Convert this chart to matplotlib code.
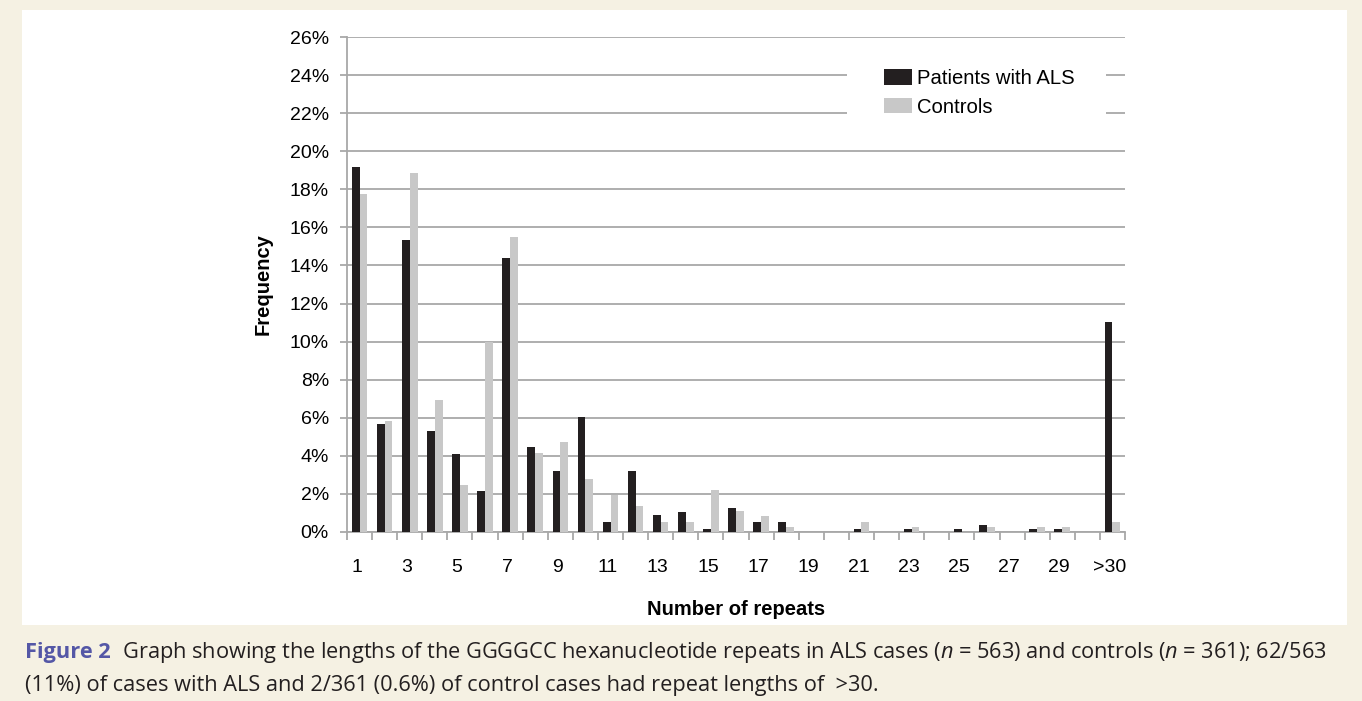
import numpy as np
import matplotlib.pyplot as plt
from matplotlib.patches import Rectangle
from matplotlib.transforms import ScaledTranslation

plt.rcParams['font.family'] = ['Liberation Sans', 'DejaVu Sans']
plt.rcParams['mathtext.fontset'] = 'custom'
plt.rcParams['mathtext.it'] = 'Open Sans:italic'
plt.rcParams['mathtext.rm'] = 'Open Sans'

# categories: 1..30 repeats plus >30
categories = [str(i) for i in range(1, 31)] + ['>30']
# frequency in %
als = [19.18, 5.68, 15.32, 5.33, 4.09, 2.13, 14.39, 4.44, 3.2, 6.04,
       0.53, 3.2, 0.89, 1.07, 0.18, 1.24, 0.53, 0.53, 0, 0,
       0.18, 0, 0.18, 0, 0.18, 0.36, 0, 0.18, 0.18, 0, 11.01]
controls = [17.73, 5.82, 18.84, 6.93, 2.49, 9.97, 15.51, 4.16, 4.71, 2.77,
            1.94, 1.39, 0.55, 0.55, 2.22, 1.11, 0.83, 0.28, 0, 0,
            0.55, 0, 0.28, 0, 0, 0.28, 0, 0.28, 0.28, 0, 0.55]
ytick_vals = list(range(0, 27, 2))

bg = '#f5f1e3'
als_color = '#231f20'
ctrl_color = '#c8c8c8'
grid_color = '#a8a8a8'
W, H = 1362, 701
fs = 14

fig = plt.figure(figsize=(W/100, H/100), dpi=100, facecolor=bg)
panel = Rectangle((22/W, 1-625/H), (1347-22)/W, (625-10)/H,
                  transform=fig.transFigure, facecolor='white',
                  edgecolor='none', zorder=-5)
fig.add_artist(panel)

ax = fig.add_axes([347/W, 1-532/H, (1125-347)/W, (532-37)/H])
ax.set_facecolor('none')

x = np.arange(len(categories))
w = 0.31
ax.bar(x - w/2, als, width=w, color=als_color, label='Patients with ALS', zorder=3)
ax.bar(x + w/2, controls, width=w, color=ctrl_color, label='Controls', zorder=3)

ax.set_xlim(-0.5, len(categories) - 0.5)
ax.set_ylim(0, 26)
ax.set_yticks(ytick_vals)
ax.set_yticklabels([f'{v}%' for v in ytick_vals], fontsize=fs)
ax.yaxis.grid(True, color=grid_color, linewidth=1.3, zorder=1)
ax.set_axisbelow(True)

lab_pos = list(range(0, 30, 2)) + [30]
ax.set_xticks(lab_pos)
ax.set_xticklabels([categories[i] for i in lab_pos], fontsize=fs)
ax.set_xticks(np.arange(-0.5, len(categories)), minor=True)
ax.tick_params(axis='x', which='major', length=0, pad=19.5)
ax.tick_params(axis='x', which='minor', length=6, color=grid_color, width=1.3)
ax.tick_params(axis='y', length=5, color=grid_color, width=1.3, pad=8)
# labels sit slightly left of the category centre in the original
shift = ScaledTranslation(-3/100, 0, fig.dpi_scale_trans)
for lbl in ax.get_xticklabels():
    lbl.set_transform(lbl.get_transform() + shift)

for s in ['top', 'right']:
    ax.spines[s].set_visible(False)
for s in ['left', 'bottom']:
    ax.spines[s].set_color(grid_color)
    ax.spines[s].set_linewidth(1.3)

ax.set_xlabel('Number of repeats', fontsize=14.5, fontweight='bold', labelpad=17)
ax.set_ylabel('Frequency', fontsize=14.5, fontweight='bold', labelpad=12.5)

# white box behind the legend, hiding the grid lines
ax.add_patch(Rectangle((0.643, 0.80), 0.333, 0.18, transform=ax.transAxes,
                       facecolor='white', edgecolor='none', zorder=2))
ax.legend(loc='upper left', bbox_to_anchor=(0.69, 0.935), frameon=False,
          fontsize=14.6, handlelength=1.4, handleheight=0.8, handletextpad=0.25,
          labelspacing=0.46, borderpad=0, borderaxespad=0)

# caption
cap_font = ['Open Sans', 'DejaVu Sans']
cap_size = 15.7
y1 = 1 - 658/H
t1 = fig.text(25/W, y1, 'Figure 2', fontsize=cap_size, fontweight='bold',
              color='#5457a6', family=cap_font, va='baseline')
r = fig.canvas.get_renderer()
x1 = t1.get_window_extent(r).x1
fig.text(x1/W, y1, '  Graph showing the lengths of the GGGGCC hexanucleotide repeats in ALS cases '
         '($n$ = 563) and controls ($n$ = 361); 62/563',
         va='baseline', ha='left', fontsize=cap_size, family=cap_font, color='#231f20')
fig.text(25/W, 1-691/H, '(11%) of cases with ALS and 2/361 (0.6%) of control cases had '
         'repeat lengths of  >30.', fontsize=cap_size, family=cap_font, color='#231f20',
         va='baseline')

fig.savefig('out.png', dpi=100, facecolor=bg)
